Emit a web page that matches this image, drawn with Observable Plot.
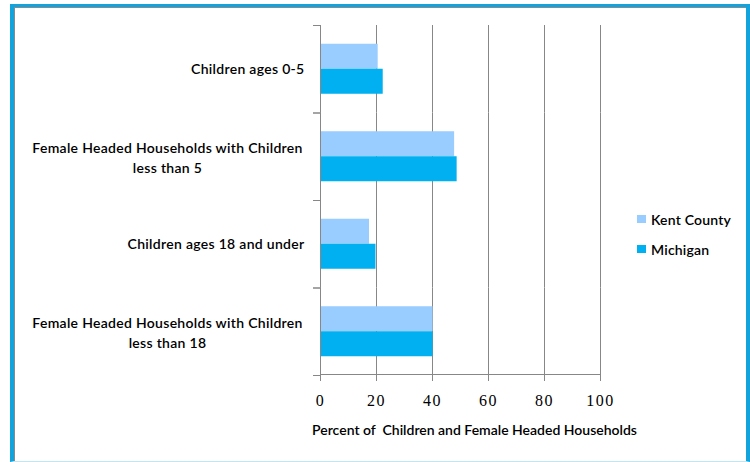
<!DOCTYPE html>
<html>
<head>
<meta charset="utf-8">
<script src="https://cdn.jsdelivr.net/npm/d3@7"></script>
<script src="https://cdn.jsdelivr.net/npm/@observablehq/plot@0.6"></script>
<style>
  html, body { margin: 0; padding: 0; background: #fff; }
  #wrap { position: relative; width: 750px; height: 462px; overflow: hidden; background: #fff; }
  #wrap svg { position: absolute; left: 0; top: 0; }
  #wrap svg text { white-space: pre; }
  .xt g[aria-label="x-axis tick label"] text { letter-spacing: 1.5px; }
  .xt text[aria-label="category label"], .xt g[aria-label="category label"] text { letter-spacing: 0.3px; }
  #border {
    position: absolute; left: 10px; top: 4px; width: 740px; height: 458px; box-sizing: border-box;
    border-top: 3px solid #12a2dc; border-left: 4px solid #12a2dc; border-right: 4px solid #12a2dc;
    border-bottom: 1px solid #bfe6f5; box-shadow: inset 1px 1px 0 #8a8a8a; pointer-events: none;
  }
  #legend { position: absolute; left: 637px; top: 210px; font-family: Lato, sans-serif; font-size: 14px; font-weight: 600; letter-spacing: 0.2px; color: #000; }
  #legend .item { display: flex; align-items: center; height: 18px; margin-bottom: 12px; }
  #legend .sw { width: 9px; height: 8px; margin-right: 5px; }
</style>
</head>
<body>
<div id="wrap"><div id="border"></div></div>
<script>
const categories = [
  "Children ages 0-5",
  "Female Headed Households with Children less than 5",
  "Children ages 18 and under",
  "Female Headed Households with Children less than 18"
];
const categoryLines = [
  ["Children ages 0-5"],
  ["Female Headed Households with Children", "less than 5"],
  ["Children ages 18 and under"],
  ["Female Headed Households with Children", "less than 18"]
];
const series = ["Kent County", "Michigan"];
const kentValues = [20.6, 47.9, 17.5, 40.2];
const michiganValues = [22.4, 48.8, 19.8, 40.2];
const xTicks = [0, 20, 40, 60, 80, 100];
const seriesColors = ["#99CCFF", "#00B0F0"];
const xTitle = "Percent of  Children and Female Headed Households";

const data = categories.flatMap((c, i) => [
  {category: c, series: series[0], value: kentValues[i]},
  {category: c, series: series[1], value: michiganValues[i]}
]);

const gridColor = "#878787";

const chart = Plot.plot({
  width: 750,
  height: 462,
  marginLeft: 320,
  marginRight: 150,
  marginTop: 25,
  marginBottom: 87,
  className: "xt",
  style: {fontFamily: "Lato, sans-serif", fontSize: "14px", background: "transparent", color: "#000"},
  x: {domain: [0, 100], axis: null},
  y: {domain: series, paddingInner: 0, paddingOuter: 0.75, round: false, axis: null},
  fy: {domain: categories, padding: 0, round: false, axis: null},
  color: {domain: series, range: seriesColors},
  marks: [
    Plot.ruleX(xTicks.slice(1), {stroke: gridColor}),
    Plot.barX(data, {fy: "category", y: "series", x: "value", fill: "series"}),
    Plot.ruleX([0], {stroke: gridColor}),
    Plot.frame({anchor: "top", stroke: gridColor, insetRight: 273, dx: -7}),
    Plot.frame({anchor: "bottom", stroke: gridColor, insetRight: 273, dx: -7}),
    Plot.barX([categories[categories.length - 1]], {fy: d => d, x1: xTicks[0], x2: xTicks[xTicks.length - 1], fill: gridColor, insetTop: 86.5}),
    Plot.axisX(xTicks, {tickSize: 6, tickPadding: 13, stroke: gridColor, fill: "#000", fontFamily: "Liberation Serif, serif", fontSize: 16, label: null}),
    Plot.text(categories, {
      ariaLabel: () => "category label",
      fy: d => d, filter: (d, i) => categoryLines[i].length === 1,
      text: (d, i) => categoryLines[i].join("\n"),
      frameAnchor: "left", textAnchor: "end", dx: -16, fill: "#000", fontSize: 14, fontWeight: 600
    }),
    Plot.text(categories, {
      ariaLabel: () => "category label",
      fy: d => d, filter: (d, i) => categoryLines[i].length > 1,
      text: (d, i) => categoryLines[i].join("\n"),
      frameAnchor: "left", textAnchor: "middle", dx: -153, lineHeight: 1.43, fill: "#000", fontSize: 14, fontWeight: 600
    }),
    Plot.text([xTitle], {
      fy: () => categories[categories.length - 1],
      frameAnchor: "bottom", dy: 59, dx: 14, fill: "#000", fontSize: 14, fontWeight: 600
    })
  ]
});

const wrap = document.getElementById("wrap");
wrap.insertBefore(chart, wrap.firstChild);

const legend = document.createElement("div");
legend.id = "legend";
series.forEach((s, i) => {
  const item = document.createElement("div");
  item.className = "item";
  const sw = document.createElement("div");
  sw.className = "sw";
  sw.style.background = seriesColors[i];
  const label = document.createElement("span");
  label.textContent = s;
  item.appendChild(sw);
  item.appendChild(label);
  legend.appendChild(item);
});
wrap.appendChild(legend);
</script>
</body>
</html>
